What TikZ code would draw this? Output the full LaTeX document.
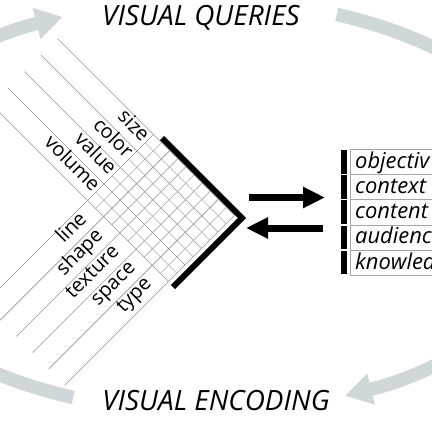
\documentclass[tikz,border=0pt]{standalone}
\usepackage{fontspec}
\setmainfont{Open Sans}
\usetikzlibrary{arrows.meta,calc}
\definecolor{cyc}{RGB}{208,215,216}
\definecolor{gridc}{RGB}{150,150,150}
\definecolor{gridi}{RGB}{170,170,170}
\begin{document}
\begin{tikzpicture}[x=1bp,y=-1bp,
  cycarc/.style={draw=cyc,line width=13.5bp,-{Triangle[length=27bp,width=30bp]}},
  title/.style={font=\fontsize{28}{30}\selectfont\itshape,inner sep=0pt,anchor=base},
  gline/.style={draw=gridc,line width=0.6bp},
  giline/.style={draw=gridi,line width=0.6bp},
  lab/.style={font=\fontsize{20}{22}\selectfont,inner sep=1bp,anchor=east,text height=0.72em,text depth=0.2em},
  bracketline/.style={line width=6bp,line join=miter},
  barrow/.style={line width=7bp,-{Triangle[length=22bp,width=20bp]}},
  rowbox/.style={draw=gray!70,line width=0.6bp,minimum width=120bp,minimum height=25.2bp,anchor=north west,inner sep=0pt},
  rowbar/.style={fill=black,minimum width=6bp,minimum height=23.6bp,anchor=north west,inner sep=0pt},
  rowtext/.style={font=\fontsize{22}{24}\selectfont\itshape,anchor=base west,inner sep=0pt}
]
\useasboundingbox (0,0) rectangle (432,432);
\clip (0,0) rectangle (432,432);
\fill[white] (0,0) rectangle (432,432);

% cycle arcs
\draw[cycarc] ($(205,206)+(-68.4:358 and 206)$) arc[start angle=-68.4,end angle=67,x radius=358,y radius=206];
\draw[cycarc] ($(205,206)+(111.6:358 and 206)$) arc[start angle=111.6,end angle=246.6,x radius=358,y radius=206];

% titles
\node[title] (vq) at (201,25) {VISUAL QUERIES};
\node[title] (ve) at (216,410) {VISUAL ENCODING};

% grid in rotated coordinates (u = x-y, v = x+y)
\begin{scope}[x={(0.5bp,0.5bp)},y={(0.5bp,-0.5bp)}]
  \foreach \k in {1,3,5,7}{
    \pgfmathsetmacro\uu{19-16.5*\k}
    \draw[giline] (\uu,288) -- (\uu,450);
  }
  \foreach \k in {1,3,5,7,9}{
    \pgfmathsetmacro\vv{450-16.2*\k}
    \draw[giline] (-113,\vv) -- (19,\vv);
  }
  \foreach \k in {0,2,4,6,8}{
    \pgfmathsetmacro\uu{19-16.5*\k}
    \draw[gline] (\uu,96) -- (\uu,450);
  }
  \foreach \k in {0,2,4,6,8,10}{
    \pgfmathsetmacro\vv{450-16.2*\k}
    \draw[gline] (-320,\vv) -- (19,\vv);
  }
  \node[lab,rotate=-45] (lsize) at (2.5,286) {size};
  \node[lab,rotate=-45] (lcolor) at (-30.5,286) {color};
  \node[lab,rotate=-45] (lvalue) at (-63.5,286) {value};
  \node[lab,rotate=-45] (lvolume) at (-96.5,286) {volume};
  \node[lab,rotate=45] (ltype) at (-131,433.8) {type};
  \node[lab,rotate=45] (lspace) at (-131,401.4) {space};
  \node[lab,rotate=45] (ltexture) at (-131,369) {texture};
  \node[lab,rotate=45] (lshape) at (-131,336.6) {shape};
  \node[lab,rotate=45] (lline) at (-131,304.2) {line};
  \draw[bracketline] (24,300) -- (24,460) -- (-114,460);
\end{scope}

% middle arrows
\coordinate (a1s) at (249,197.5);
\coordinate (a1e) at (325,197.5);
\coordinate (a2s) at (323,228);
\coordinate (a2e) at (246,228);
\draw[barrow] (a1s) -- (a1e);
\draw[barrow] (a2s) -- (a2e);

% right list
\foreach \w [count=\i from 0] in {objectiv,context,content,audienc,knowled}{
  \pgfmathsetmacro\tt{149+25.2*\i}
  \node[rowbox] (r\i) at (350,\tt) {};
  \node[rowbar] (b\i) at (341,\tt+0.8) {};
  \node[rowtext] (t\i) at ($(r\i.north west)+(5,19.3)$) {\w};
}
\end{tikzpicture}
\end{document}
